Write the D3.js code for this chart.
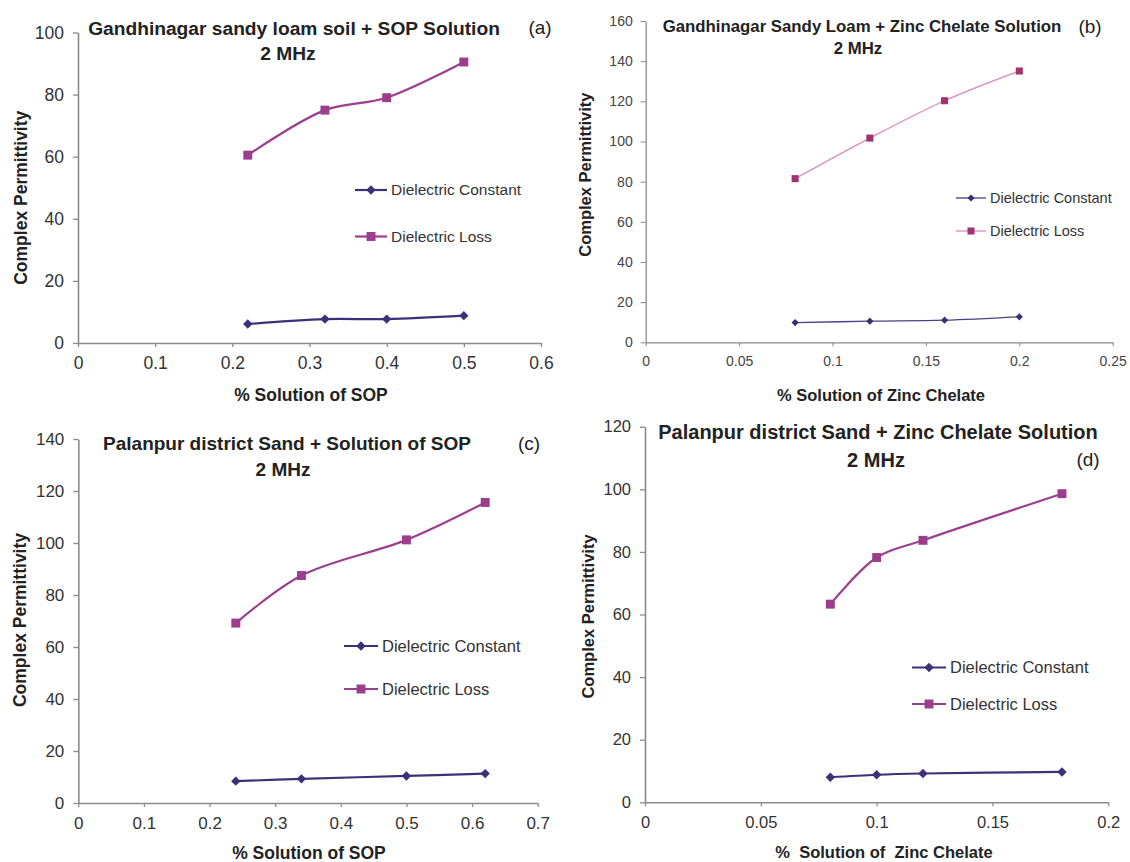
<!DOCTYPE html>
<html>
<head>
<meta charset="utf-8">
<script src="https://cdn.jsdelivr.net/npm/d3@7"></script>
<style>
  body { margin: 0; background: #fff; }
  svg { display: block; }
  text { font-family: "Liberation Sans", Arial, Helvetica, sans-serif; }
</style>
</head>
<body>
<svg id="chart" width="1130" height="862"></svg>
<script>
// ---- (a) Gandhinagar sandy loam soil + SOP solution ----
const concA = [0.22, 0.32, 0.4, 0.5];
const constantA = [6.1, 7.7, 7.7, 8.8];
const lossA = [60.5, 75, 79, 90.5];
const xTicksA = [0, 0.1, 0.2, 0.3, 0.4, 0.5, 0.6];
const yTicksA = [0, 20, 40, 60, 80, 100];

// ---- (b) Gandhinagar sandy loam + zinc chelate solution ----
const concB = [0.08, 0.12, 0.16, 0.2];
const constantB = [9.8, 10.5, 11, 12.7];
const lossB = [81.5, 101.7, 120.3, 135.1];
const xTicksB = [0, 0.05, 0.1, 0.15, 0.2, 0.25];
const yTicksB = [0, 20, 40, 60, 80, 100, 120, 140, 160];

// ---- (c) Palanpur district sand + SOP solution ----
const concC = [0.24, 0.34, 0.5, 0.62];
const constantC = [8.4, 9.3, 10.4, 11.3];
const lossC = [69.2, 87.5, 101.2, 115.6];
const xTicksC = [0, 0.1, 0.2, 0.3, 0.4, 0.5, 0.6, 0.7];
const yTicksC = [0, 20, 40, 60, 80, 100, 120, 140];

// ---- (d) Palanpur district sand + zinc chelate solution ----
const concD = [0.08, 0.1, 0.12, 0.18];
const constantD = [8.0, 8.8, 9.2, 9.7];
const lossD = [63.3, 78.2, 83.7, 98.6];
const xTicksD = [0, 0.05, 0.1, 0.15, 0.2];
const yTicksD = [0, 20, 40, 60, 80, 100, 120];

const seriesNames = ["Dielectric Constant", "Dielectric Loss"];
const subtitle = "2 MHz";
const yTitle = "Complex Permittivity";

const svg = d3.select("#chart");

// marker shapes: a square turned 45 degrees for the constant, an upright square for the loss
function markerPath(kind, size) {
  return d3.symbol().type(d3.symbolSquare).size(size)();
}
function markerRotate(kind) {
  return kind === "diamond" ? " rotate(45)" : "";
}

function drawPanel(p) {
  const g = svg.append("g");
  const x = d3.scaleLinear()
    .domain([0, p.xTicks[p.xTicks.length - 1]])
    .range([p.frame.left, p.frame.right]);
  const y = d3.scaleLinear()
    .domain([0, p.yTicks[p.yTicks.length - 1]])
    .range([p.frame.bottom, p.frame.top]);

  // axes
  const yAxis = g.append("g")
    .attr("transform", `translate(${p.frame.left},0)`)
    .call(d3.axisLeft(y).tickValues(p.yTicks).tickSize(5).tickPadding(p.yPad).tickSizeOuter(0)
      .tickFormat(d => String(d)));
  const xAxis = g.append("g")
    .attr("transform", `translate(0,${p.frame.bottom})`)
    .call(d3.axisBottom(x).tickValues(p.xTicks).tickSize(4).tickPadding(p.xPad).tickSizeOuter(0)
      .tickFormat(d => String(d)));
  [yAxis, xAxis].forEach(a => {
    a.select(".domain").attr("stroke", "#8a8a8a").attr("stroke-width", p.axisWidth);
    a.selectAll(".tick line").attr("stroke", "#8a8a8a").attr("stroke-width", p.axisWidth * 0.8);
    a.selectAll(".tick text")
      .attr("fill", p.tickColor)
      .style("font-size", p.tickFont + "px")
      .style("font-family", '"Liberation Sans", Arial, sans-serif');
  });

  const line = d3.line()
    .x((d, i) => x(p.conc[i]))
    .y(d => y(d))
    .curve(d3.curveCatmullRom.alpha(0.5));

  const styles = [
    { values: p.constant, line: p.constLine, mark: p.constMark, kind: "diamond", size: p.diamondSize, w: p.constWidth },
    { values: p.loss, line: p.lossLine, mark: p.lossMark, kind: "square", size: p.squareSize, w: p.lossWidth }
  ];

  styles.forEach(s => {
    g.append("path")
      .datum(s.values)
      .attr("d", line)
      .attr("fill", "none")
      .attr("stroke", s.line)
      .attr("stroke-width", s.w);
    g.selectAll(null)
      .data(s.values)
      .join("path")
      .attr("transform", (d, i) => `translate(${x(p.conc[i])},${y(d)})${markerRotate(s.kind)}`)
      .attr("d", markerPath(s.kind, s.size))
      .attr("fill", s.mark);
  });

  // legend
  styles.forEach((s, i) => {
    const ly = p.legendY[i];
    const lg = g.append("g");
    lg.append("line")
      .attr("x1", p.legendX - p.legendHalf).attr("x2", p.legendX + p.legendHalf)
      .attr("y1", ly).attr("y2", ly)
      .attr("stroke", s.line).attr("stroke-width", s.w);
    lg.append("path")
      .attr("transform", `translate(${p.legendX},${ly})${markerRotate(s.kind)}`)
      .attr("d", markerPath(s.kind, s.size))
      .attr("fill", s.mark);
    lg.append("text")
      .attr("x", p.legendX + p.legendHalf + 4)
      .attr("y", ly)
      .attr("dy", "0.35em")
      .attr("fill", "#333")
      .style("font-size", p.legendFont + "px")
      .text(seriesNames[i]);
  });

  // titles
  g.append("text")
    .attr("x", p.titleX).attr("y", p.titleY).attr("dy", "0.35em")
    .attr("text-anchor", "middle").attr("font-weight", "bold").attr("fill", "#222")
    .style("font-size", p.titleFont + "px")
    .text(p.title);
  g.append("text")
    .attr("x", p.subX).attr("y", p.subY).attr("dy", "0.35em")
    .attr("text-anchor", "middle").attr("font-weight", "bold").attr("fill", "#222")
    .style("font-size", p.titleFont + "px")
    .text(subtitle);
  g.append("text")
    .attr("x", p.tagX).attr("y", p.tagY).attr("dy", "0.35em")
    .attr("text-anchor", "middle").attr("fill", "#222")
    .style("font-size", p.tagFont + "px")
    .text(p.tag);

  // axis titles
  g.append("text")
    .attr("transform", `translate(${p.yLabelX},${(p.frame.top + p.frame.bottom) / 2 + p.yLabelShift}) rotate(-90)`)
    .attr("dy", "0.35em")
    .attr("text-anchor", "middle").attr("font-weight", "bold").attr("fill", "#222")
    .style("font-size", p.axisFont + "px")
    .text(yTitle);
  g.append("text")
    .attr("x", p.xLabelX).attr("y", p.xLabelY).attr("dy", "0.35em")
    .attr("text-anchor", "middle").attr("font-weight", "bold").attr("fill", "#222")
    .style("font-size", p.axisFont + "px")
    .style("white-space", "pre")
    .attr("xml:space", "preserve")
    .text(p.xLabel);
}

const navy = "#3d2f78";
const plum = "#9c3d8e";

drawPanel({
  frame: { left: 78, right: 541, top: 32.5, bottom: 343 },
  conc: concA, constant: constantA, loss: lossA, xTicks: xTicksA, yTicks: yTicksA,
  tickFont: 17.5, tickColor: "#333", yPad: 9, xPad: 10, axisWidth: 1.6,
  constLine: navy, constMark: navy, lossLine: plum, lossMark: plum,
  constWidth: 2.2, lossWidth: 2.2, diamondSize: 44, squareSize: 80,
  legendX: 371, legendHalf: 16, legendY: [190, 236.5], legendFont: 15.5,
  title: "Gandhinagar sandy loam soil + SOP Solution", titleFont: 19.2,
  titleX: 294, titleY: 28, subX: 288, subY: 53,
  tag: "(a)", tagX: 540, tagY: 27, tagFont: 19,
  axisFont: 17.5, yLabelX: 21, yLabelShift: 10,
  xLabel: "% Solution of SOP", xLabelX: 311, xLabelY: 395
});

drawPanel({
  frame: { left: 645.7, right: 1112.7, top: 21, bottom: 342.3 },
  conc: concB, constant: constantB, loss: lossB, xTicks: xTicksB, yTicks: yTicksB,
  tickFont: 14, tickColor: "#444", yPad: 8, xPad: 10, axisWidth: 1.3,
  constLine: "#4a3f88", constMark: "#3a2d70", lossLine: "#d98cbf", lossMark: "#a3336f",
  constWidth: 1.3, lossWidth: 1.3, diamondSize: 26, squareSize: 50,
  legendX: 971, legendHalf: 15, legendY: [198, 231], legendFont: 14.5,
  title: "Gandhinagar Sandy Loam + Zinc Chelate Solution", titleFont: 16.8,
  titleX: 862, titleY: 26, subX: 858, subY: 48,
  tag: "(b)", tagX: 1090, tagY: 26, tagFont: 19,
  axisFont: 16.5, yLabelX: 585, yLabelShift: -7,
  xLabel: "% Solution of Zinc Chelate", xLabelX: 881, xLabelY: 395
});

drawPanel({
  frame: { left: 78.3, right: 537.7, top: 439, bottom: 803 },
  conc: concC, constant: constantC, loss: lossC, xTicks: xTicksC, yTicks: yTicksC,
  tickFont: 17, tickColor: "#333", yPad: 9, xPad: 10, axisWidth: 1.6,
  constLine: navy, constMark: navy, lossLine: plum, lossMark: plum,
  constWidth: 2.2, lossWidth: 2.2, diamondSize: 44, squareSize: 80,
  legendX: 361, legendHalf: 17, legendY: [646, 689], legendFont: 16.5,
  title: "Palanpur district Sand + Solution of SOP", titleFont: 19,
  titleX: 287, titleY: 443, subX: 283, subY: 469,
  tag: "(c)", tagX: 529, tagY: 443, tagFont: 19,
  axisFont: 17.5, yLabelX: 20, yLabelShift: -1,
  xLabel: "% Solution of SOP", xLabelX: 309, xLabelY: 853
});

drawPanel({
  frame: { left: 645, right: 1108.3, top: 426.7, bottom: 802.3 },
  conc: concD, constant: constantD, loss: lossD, xTicks: xTicksD, yTicks: yTicksD,
  tickFont: 16.5, tickColor: "#333", yPad: 9, xPad: 10, axisWidth: 1.6,
  constLine: navy, constMark: navy, lossLine: plum, lossMark: plum,
  constWidth: 2.2, lossWidth: 2.2, diamondSize: 44, squareSize: 80,
  legendX: 929, legendHalf: 17, legendY: [667.5, 704], legendFont: 16.5,
  title: "Palanpur district Sand + Zinc Chelate Solution", titleFont: 20,
  titleX: 878, titleY: 432, subX: 876, subY: 460,
  tag: "(d)", tagX: 1088, tagY: 459, tagFont: 19,
  axisFont: 16.5, yLabelX: 588, yLabelShift: 2,
  xLabel: "%  Solution of  Zinc Chelate", xLabelX: 884, xLabelY: 852
});
</script>
</body>
</html>
